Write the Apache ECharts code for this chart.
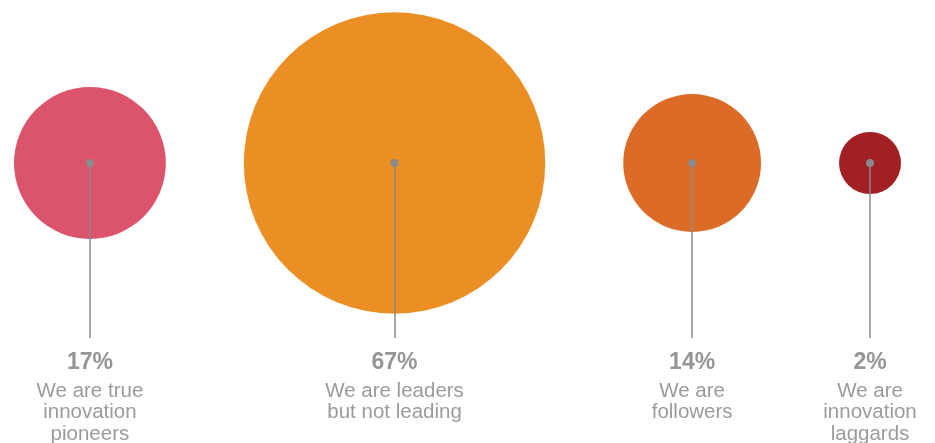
<!DOCTYPE html>
<html>
<head>
<meta charset="utf-8">
<script src="https://cdn.jsdelivr.net/npm/echarts@6/dist/echarts.min.js"></script>
<style>
  html, body { margin: 0; padding: 0; background: #ffffff; }
  #chart { width: 935px; height: 443px; }
</style>
</head>
<body>
<div id="chart"></div>
<script>
// Share of respondents by self-assessed innovation stance
const categories = [
  ['We are true', 'innovation', 'pioneers'],
  ['We are leaders', 'but not leading'],
  ['We are', 'followers'],
  ['We are', 'innovation', 'laggards']
];
const shares = [17, 67, 14, 2];

const colors = ['#DB546B', '#EB8E24', '#DC6B28', '#A21F24'];
const grey = '#8A8A8A';

// Bubble area proportional to share, with a minimum size for legibility
const AREA_PER_POINT = 339;
const MIN_DIAMETER = 62;
function diameter(v) {
  return Math.max(MIN_DIAMETER, 2 * Math.sqrt(v * AREA_PER_POINT));
}

// Bubbles sit side by side with an even gap between their edges
const LEFT = 14, GAP = 78, CY = 163, STEM_END = 338, LABEL_TOP = 346;
const centersX = [];
let cursor = LEFT;
shares.forEach(function (v) {
  const d = diameter(v);
  centersX.push(cursor + d / 2);
  cursor += d + GAP;
});

const bubbleData = shares.map(function (v, i) {
  return { value: [centersX[i], CY, v], itemStyle: { color: colors[i] } };
});
const dotData = shares.map(function (v, i) { return [centersX[i], CY]; });
const stemData = shares.map(function (v, i) {
  return { coords: [[centersX[i], CY], [centersX[i], STEM_END]] };
});
const labelData = shares.map(function (v, i) {
  return { value: [centersX[i], LABEL_TOP], pct: v, lines: categories[i] };
});

const FONT = 'Liberation Sans, Arial, sans-serif';

const chart = echarts.init(document.getElementById('chart'), null, { renderer: 'canvas' });
chart.setOption({
  animation: false,
  backgroundColor: '#ffffff',
  grid: { left: 0, right: 0, top: 0, bottom: 0 },
  xAxis: { type: 'value', min: 0, max: 935, show: false },
  yAxis: { type: 'value', min: 0, max: 443, inverse: true, show: false },
  series: [
    {
      type: 'scatter',
      data: bubbleData,
      symbolSize: function (val) { return diameter(val[2]); },
      itemStyle: { opacity: 1 },
      z: 1
    },
    {
      type: 'lines',
      coordinateSystem: 'cartesian2d',
      data: stemData,
      lineStyle: { color: grey, width: 1.5, opacity: 1 },
      z: 2
    },
    {
      type: 'scatter',
      data: dotData,
      symbolSize: 8,
      itemStyle: { color: grey, opacity: 1 },
      z: 3
    },
    {
      type: 'scatter',
      data: labelData,
      symbolSize: 0,
      z: 4,
      label: {
        show: true,
        position: 'bottom',
        distance: 0,
        align: 'center',
        fontFamily: FONT,
        formatter: function (p) {
          return '{p|' + p.data.pct + '%}\n' +
            p.data.lines.map(function (s) { return '{d|' + s + '}'; }).join('\n');
        },
        rich: {
          p: { fontSize: 23, fontWeight: 'bold', color: '#7A7A7A', lineHeight: 34,
               fontFamily: FONT, align: 'center' },
          d: { fontSize: 20.5, color: '#828282', lineHeight: 21.7,
               fontFamily: FONT, align: 'center' }
        }
      }
    }
  ]
});
</script>
</body>
</html>
